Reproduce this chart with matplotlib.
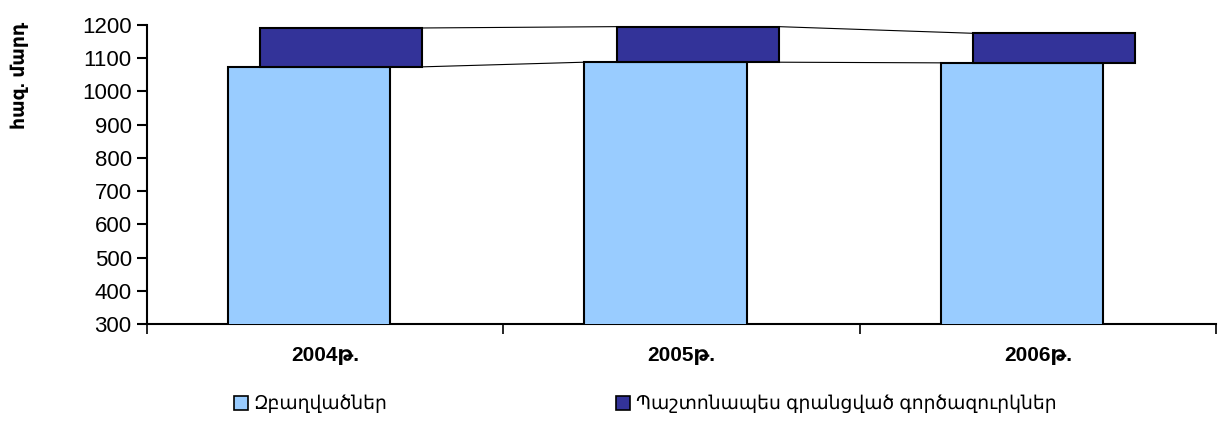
import numpy as np
import matplotlib.pyplot as plt
from matplotlib.patches import Patch

plt.rcParams['font.family'] = ['Liberation Sans', 'DejaVu Sans']

# 데이터
years = ['2004թ.', '2005թ.', '2006թ.']
employed = [1074, 1088, 1086]
registered_jobless = [117, 107, 89]
series_names = ['Զբաղվածներ', 'Պաշտոնապես գրանցված գործազուրկներ']
colors = ['#99CCFF', '#333399']

fig = plt.figure(figsize=(12.19, 4.3), dpi=100)
ax = fig.add_axes([0.1206, 0.2465, 0.877, 0.6954])

x = np.arange(len(years))
width = 0.455
shift = 0.045
totals = np.array(employed) + np.array(registered_jobless)

ax.bar(x - shift, employed, width, bottom=0, color=colors[0],
       edgecolor='black', linewidth=1.5, zorder=3)
ax.bar(x + shift, registered_jobless, width, bottom=employed, color=colors[1],
       edgecolor='black', linewidth=1.5, zorder=3)

# series lines
for i in range(len(years) - 1):
    x0 = x[i] + shift + width / 2
    ax.plot([x0, x[i + 1] + shift - width / 2], [totals[i], totals[i + 1]],
            color='black', lw=0.8, zorder=2)
    ax.plot([x0, x[i + 1] - shift - width / 2], [employed[i], employed[i + 1]],
            color='black', lw=0.8, zorder=2)

ax.set_xlim(-0.5, 2.5)
ax.set_ylim(300, 1200)
ax.set_yticks(np.arange(300, 1201, 100))
ax.tick_params(axis='y', labelsize=16, length=7, width=1.5, direction='out', pad=4)

ax.set_xticks(x)
ax.set_xticklabels(years, fontsize=15, fontweight='bold')
ax.tick_params(axis='x', which='major', length=0, pad=16)
ax.set_xticks(np.arange(-0.5, 2.6, 1.0), minor=True)
ax.tick_params(axis='x', which='minor', length=7, width=1.2, direction='out')

for s in ['top', 'right']:
    ax.spines[s].set_visible(False)
for s in ['left', 'bottom']:
    ax.spines[s].set_linewidth(1.5)

fig.text(20 / 1219, 1 - 75 / 430, 'հազ. մարդ', rotation=90, ha='center',
         va='center', fontsize=13.5, fontweight='bold')

handles = [Patch(facecolor=c, edgecolor='black', linewidth=1.2) for c in colors]
fig.legend(handles, series_names, loc='center left', ncol=2,
           bbox_to_anchor=(234 / 1219, 1 - 404 / 430), frameon=False,
           fontsize=13.5, handlelength=0.75, handleheight=0.75,
           handletextpad=0.3, columnspacing=12.2, borderaxespad=0, borderpad=0)

fig.savefig('out.png', dpi=100)
